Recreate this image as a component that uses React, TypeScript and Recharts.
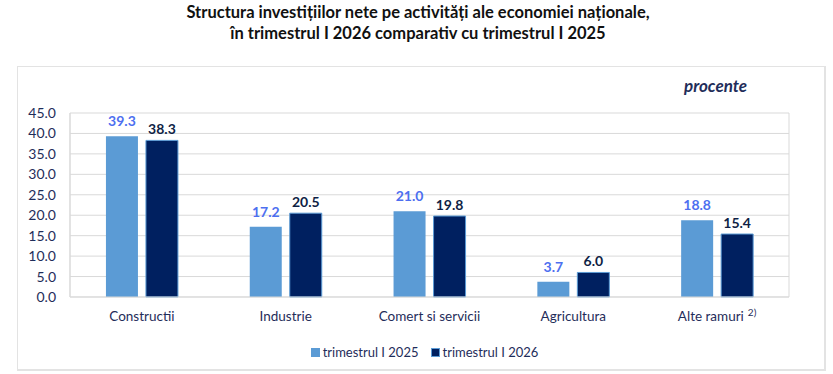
import React from "react";
import {
  BarChart,
  Bar,
  XAxis,
  YAxis,
  CartesianGrid,
  Legend,
  LabelList,
} from "recharts";

const categories = ["Constructii", "Industrie", "Comert si servicii", "Agricultura", "Alte ramuri"];
const q1_2025 = [39.3, 17.2, 21.0, 3.7, 18.8];
const q1_2026 = [38.3, 20.5, 19.8, 6.0, 15.4];
const yTicks = [0, 5, 10, 15, 20, 25, 30, 35, 40, 45];
const seriesNames = ["trimestrul I 2025", "trimestrul I 2026"];
const footnotes: Record<string, string> = { "Alte ramuri": "2)" };

const data = categories.map((name, i) => ({
  name,
  a: q1_2025[i],
  b: q1_2026[i],
}));

const FONT = "Lato, 'Open Sans', sans-serif";
const TEXT = "#1f2d5a";
const LIGHT = "#5b9bd5";
const DARK = "#002060";
const GRID = "#d9d9d9";

const CategoryTick = (props: any) => {
  const { x, y, payload } = props;
  const note = footnotes[payload.value];
  return (
    <text x={x} y={y + 16} textAnchor="middle" fontFamily={FONT} fontSize={13.5} fill={TEXT}>
      <tspan>{payload.value}</tspan>
      {note ? (
        <tspan dx={4} dy={-5} fontSize={10}>
          {note}
        </tspan>
      ) : null}
    </text>
  );
};

const LegendContent = () => (
  <div
    style={{
      display: "flex",
      justifyContent: "center",
      gap: 12,
      fontFamily: FONT,
      fontSize: 13,
      color: TEXT,
      paddingLeft: 40,
    }}
  >
    {seriesNames.map((n, i) => (
      <span key={n} style={{ display: "flex", alignItems: "center" }}>
        <span
          style={{
            width: 7,
            height: 7,
            background: i === 0 ? LIGHT : DARK,
            border: `1px solid ${LIGHT}`,
            marginRight: 3,
            display: "inline-block",
          }}
        />
        {n}
      </span>
    ))}
  </div>
);

export default function App() {
  return (
    <div
      style={{
        position: "absolute",
        left: 0,
        top: 0,
        width: 833,
        height: 374,
        background: "#fff",
        fontFamily: FONT,
      }}
    >
      <div
        style={{
          position: "absolute",
          left: 0,
          top: 2,
          width: 836,
          textAlign: "center",
          fontWeight: 700,
          fontSize: 16.5,
          lineHeight: "21px",
          color: "#111",
        }}
      >
        Structura investițiilor nete pe activități ale economiei naționale,
        <br />
        în trimestrul I 2026 comparativ cu trimestrul I 2025
      </div>
      <div
        style={{
          position: "absolute",
          left: 17,
          top: 66,
          width: 806,
          height: 302,
          border: `2px solid #e3e3e3`,
          borderTopWidth: 1,
          borderLeftWidth: 1,
        }}
      />
      <div
        style={{
          position: "absolute",
          left: 684,
          top: 75,
          fontStyle: "italic",
          fontWeight: 700,
          fontSize: 17,
          color: TEXT,
        }}
      >
        procente
      </div>
      <div style={{ position: "absolute", left: 0, top: 0 }}>
        <BarChart
          width={833}
          height={374}
          data={data}
          margin={{ top: 113, right: 44, bottom: 36, left: 20 }}
          barCategoryGap="25%"
          barGap={8}
        >
          <CartesianGrid
            stroke={GRID}
            verticalCoordinatesGenerator={({ offset }: any) => [
              offset.left,
              offset.left + offset.width,
            ]}
          />
          <XAxis
            dataKey="name"
            tick={<CategoryTick />}
            tickLine={false}
            axisLine={{ stroke: GRID }}
            interval={0}
            height={25}
          />
          <YAxis
            domain={[0, 45]}
            ticks={yTicks}
            tickFormatter={(v: number) => v.toFixed(1)}
            tick={{ fontFamily: FONT, fontSize: 14, fill: TEXT, dx: -6 }}
            tickLine={false}
            axisLine={{ stroke: GRID }}
            width={50}
            interval={0}
          />
          <Legend
            verticalAlign="bottom"
            content={<LegendContent />}
            wrapperStyle={{ bottom: 14 }}
          />
          <Bar dataKey="a" name={seriesNames[0]} fill={LIGHT} isAnimationActive={false}>
            <LabelList
              dataKey="a"
              position="top"
              offset={10}
              formatter={(v: any) => Number(v).toFixed(1)}
              style={{ fontFamily: FONT, fontSize: 14, fontWeight: 700, fill: "#4d6ff0" }}
            />
          </Bar>
          <Bar
            dataKey="b"
            name={seriesNames[1]}
            fill={DARK}
            stroke={LIGHT}
            strokeWidth={1}
            isAnimationActive={false}
          >
            <LabelList
              dataKey="b"
              position="top"
              offset={6}
              formatter={(v: any) => Number(v).toFixed(1)}
              style={{ fontFamily: FONT, fontSize: 14, fontWeight: 700, fill: "#0f1f45" }}
            />
          </Bar>
        </BarChart>
      </div>
    </div>
  );
}
